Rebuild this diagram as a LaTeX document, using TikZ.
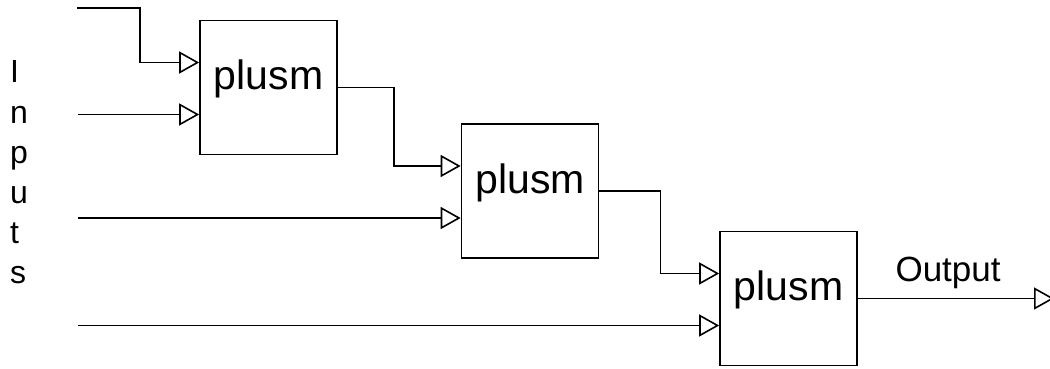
\documentclass[tikz,border=0pt]{standalone}
\usepackage{fontspec}
\setmainfont{Liberation Sans}
\usetikzlibrary{arrows.meta,calc}

\begin{document}
\begin{tikzpicture}[x=1pt, y=-1pt,
      plusbox/.style={draw, line width=1.7pt, minimum width=137pt, minimum height=134pt,
                 text height=12pt, text depth=8pt, inner sep=0pt,
                 font=\fontsize{41}{41}\selectfont},
      inlbl/.style={anchor=base west, inner sep=0pt, font=\fontsize{32}{32}\selectfont},
      outlbl/.style={above, inner sep=8.6pt, font=\fontsize{35}{35}\selectfont},
      sig/.style={-{Triangle[open, length=20pt, width=22pt]}, line width=1.6pt}
    ]
    \useasboundingbox (0,0) rectangle (1050,369);

    % blocks
    \node[plusbox] (p1) at (268.5,87.5) {plusm};
    \node[plusbox] (p2) at (530,191) {plusm};
    \node[plusbox] (p3) at (788.5,298.5) {plusm};

    % input ports
    \foreach \b in {p1,p2,p3} {
      \coordinate (\b a) at ($(\b.west)+(0,-25)$);
      \coordinate (\b b) at ($(\b.west)+(0,27)$);
    }

    % inputs
    \foreach \ch [count=\i] in {I,n,p,u,t,s}
      \node[inlbl] (l\i) at (10,43+40*\i) {\ch};
    \coordinate (i1) at (77,8);
    \coordinate (i2) at (78,114.5);
    \coordinate (i3) at (78,218);
    \coordinate (i4) at (78,325.5);
    \draw[sig] (i1) -- ++(63,0) |- (p1a);
    \draw[sig] (i2)--(p1b);
    \draw[sig] (i3)--(p2b);
    \draw[sig] (i4)--(p3b);

    % chain
    \draw[sig] (p1.east) -- ++(56,0) |- (p2a);
    \draw[sig] (p2.east) -- ++(61,0) |- (p3a);

    % output
    \coordinate (o) at (1054,298.5);
    \draw[sig] (p3.east) -- node[outlbl, pos=0.46] {Output} (o);
  \end{tikzpicture}
\end{document}
